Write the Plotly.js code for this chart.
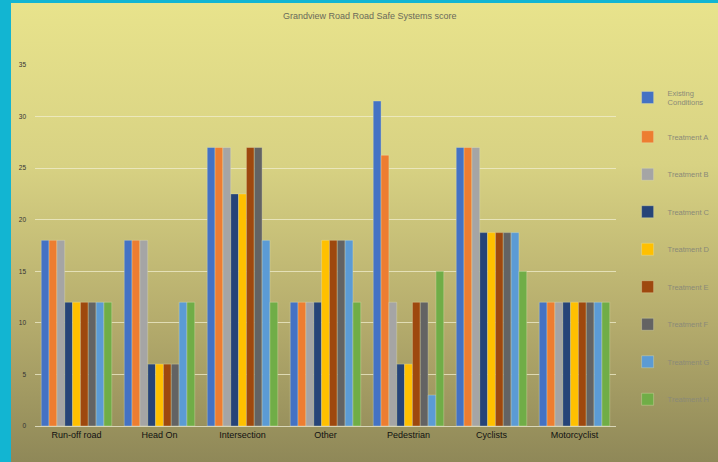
<!DOCTYPE html>
<html>
<head>
<meta charset="utf-8">
<script src="https://cdn.plot.ly/plotly-3.0.1.min.js"></script>
<style>
html,body{margin:0;padding:0;}
#frame{position:relative;width:718px;height:462px;background:#12b5d2;overflow:hidden;}
#bg{position:absolute;left:11px;top:3px;width:707px;height:459px;background:linear-gradient(to bottom,#e8e38c 0%,#d8d283 35%,#b4ab6c 70%,#8f8858 100%);}
#chart{position:absolute;left:0;top:0;width:718px;height:462px;}
</style>
</head>
<body>
<div id="frame"><div id="bg"></div><div id="chart"></div></div>
<script>
const categories = ["Run-off road","Head On","Intersection","Other","Pedestrian","Cyclists","Motorcyclist"];
const seriesNames = ["Existing<br>Conditions","Treatment A","Treatment B","Treatment C","Treatment D","Treatment E","Treatment F","Treatment G","Treatment H"];
const existing   = [18, 18, 27, 12, 31.5, 27, 12];
const treatmentA = [18, 18, 27, 12, 26.25, 27, 12];
const treatmentB = [18, 18, 27, 12, 12, 27, 12];
const treatmentC = [12, 6, 22.5, 12, 6, 18.75, 12];
const treatmentD = [12, 6, 22.5, 18, 6, 18.75, 12];
const treatmentE = [12, 6, 27, 18, 12, 18.75, 12];
const treatmentF = [12, 6, 27, 18, 12, 18.75, 12];
const treatmentG = [12, 12, 18, 18, 3, 18.75, 12];
const treatmentH = [12, 12, 12, 12, 15, 15, 12];
const yTicks = [0,5,10,15,20,25,30,35];

const allSeries = [existing,treatmentA,treatmentB,treatmentC,treatmentD,treatmentE,treatmentF,treatmentG,treatmentH];
const colors = ["#4472C4","#ED7D31","#A5A5A5","#264478","#FFC000","#9E480E","#636363","#5B9BD5","#70AD47"];

const traces = allSeries.map((vals,i)=>({
  type:'bar',
  x:categories,
  y:vals,
  name:seriesNames[i],
  legendgroup:'g'+i,
  marker:{color:colors[i],line:{color:'rgba(235,232,190,0.55)',width:0.6}}
}));

const layout = {
  width:718,height:462,
  paper_bgcolor:'rgba(0,0,0,0)',
  plot_bgcolor:'rgba(0,0,0,0)',
  margin:{l:35,r:102,t:65,b:36,autoexpand:false},
  title:{text:'Grandview Road Road Safe Systems score',x:0.515,xanchor:'center',y:0.965,yanchor:'middle',
    font:{family:'Liberation Sans, Arial, sans-serif',size:9,color:'#6a6a5a'}},
  barmode:'group',
  bargap:0.15,
  bargroupgap:0,
  showlegend:true,
  legend:{x:1.02,xanchor:'left',xref:'paper',y:0.955,yanchor:'top',tracegroupgap:18.5,
    font:{family:'Liberation Sans, Arial, sans-serif',size:7.5,color:'#8a8a78'},
    itemwidth:30,bgcolor:'rgba(0,0,0,0)'},
  xaxis:{showgrid:false,showline:true,linecolor:'#d9d6b8',linewidth:1,ticks:'',
    tickfont:{family:'Liberation Sans, Arial, sans-serif',size:9,color:'#111111'},
    automargin:false},
  yaxis:{range:[0,35],tickvals:yTicks,showgrid:true,gridcolor:'rgba(240,238,205,0.75)',gridwidth:1,
    zeroline:false,showline:false,ticks:'',ticklen:0,ticklabelstandoff:8,
    tickfont:{family:'Liberation Sans, Arial, sans-serif',size:6.5,color:'#333333'},
    automargin:false}
};
Plotly.newPlot('chart',traces,layout,{displayModeBar:false,staticPlot:true});
</script>
</body>
</html>
